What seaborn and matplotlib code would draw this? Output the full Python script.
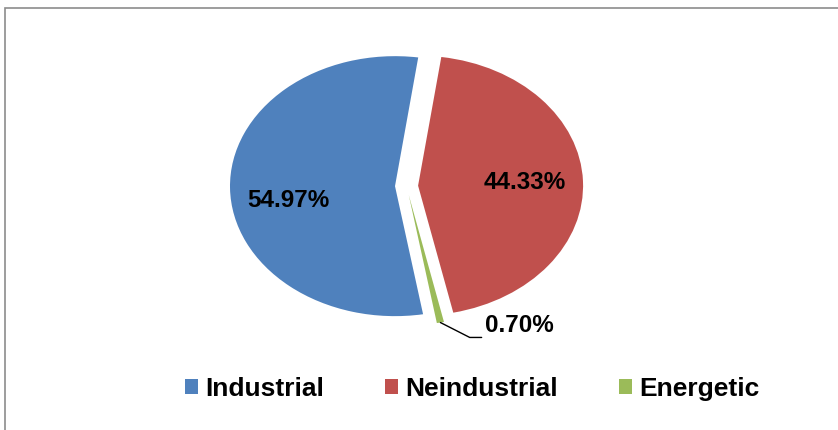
import matplotlib
matplotlib.use("Agg")
import matplotlib.pyplot as plt
from matplotlib.patches import Rectangle
import numpy as np
import seaborn as sns

# data
categories = ["Industrial", "Neindustrial", "Energetic"]
shares = [54.97, 44.33, 0.70]
colors = sns.color_palette(["#4F81BD", "#C0504D", "#9BBB59"])

sns.set_theme(style="white")
plt.rcParams['font.family'] = ['Liberation Sans', 'DejaVu Sans']

fig = plt.figure(figsize=(8.38, 4.30), dpi=100)
ax = fig.add_axes([0, 0, 1, 1])

wedges, texts, autotexts = ax.pie(
    shares, colors=colors, startangle=-80.2, counterclock=False,
    explode=[0.07] * len(shares),
    autopct=lambda p: f"{p:.2f}%" if p > 5 else "",
    pctdistance=0.645,
    wedgeprops=dict(linewidth=0),
    textprops=dict(fontsize=17.5, fontweight="bold", color="black"))

# the picture is stretched sideways, so the pie is an ellipse
ax.set_aspect("auto")
ax.set_xlim(-2.464, 2.615)
ax.set_ylim(-1.877, 1.431)
ax.axis("off")

# Excel puts the left label a bit lower
x0, y0 = autotexts[0].get_position()
autotexts[0].set_position((x0, y0 - 0.1))

# small slice label with leader line
w = wedges[2]
mid = np.deg2rad((w.theta1 + w.theta2) / 2)
tip = (w.center[0] + w.r * np.cos(mid), w.center[1] + w.r * np.sin(mid))
ax.annotate(f"{shares[2]:.2f}%", xy=tip, xytext=(0.475, -1.165),
            ha="left", va="bottom", fontsize=17.5, fontweight="bold",
            color="black",
            arrowprops=dict(arrowstyle="-", color="black", lw=1,
                            shrinkA=0, shrinkB=0, relpos=(0, 0),
                            connectionstyle="angle,angleA=180,angleB=-27,rad=0"))

ax.legend(wedges, categories, loc="center",
          bbox_to_anchor=(472 / 838, 1 - 389 / 430), bbox_transform=fig.transFigure,
          ncol=3, frameon=False, handlelength=0.5, handleheight=0.5,
          handletextpad=0.28, columnspacing=2.3, labelcolor="black",
          prop=dict(size=19, weight="bold"))

# chart area border
fig.patches.append(Rectangle((5 / 838, -0.1), 1.2, 1 - 8 / 430 + 0.1,
                             transform=fig.transFigure, fill=False,
                             edgecolor="#8c8c8c", lw=1.2))

fig.savefig("out.png", dpi=100)
